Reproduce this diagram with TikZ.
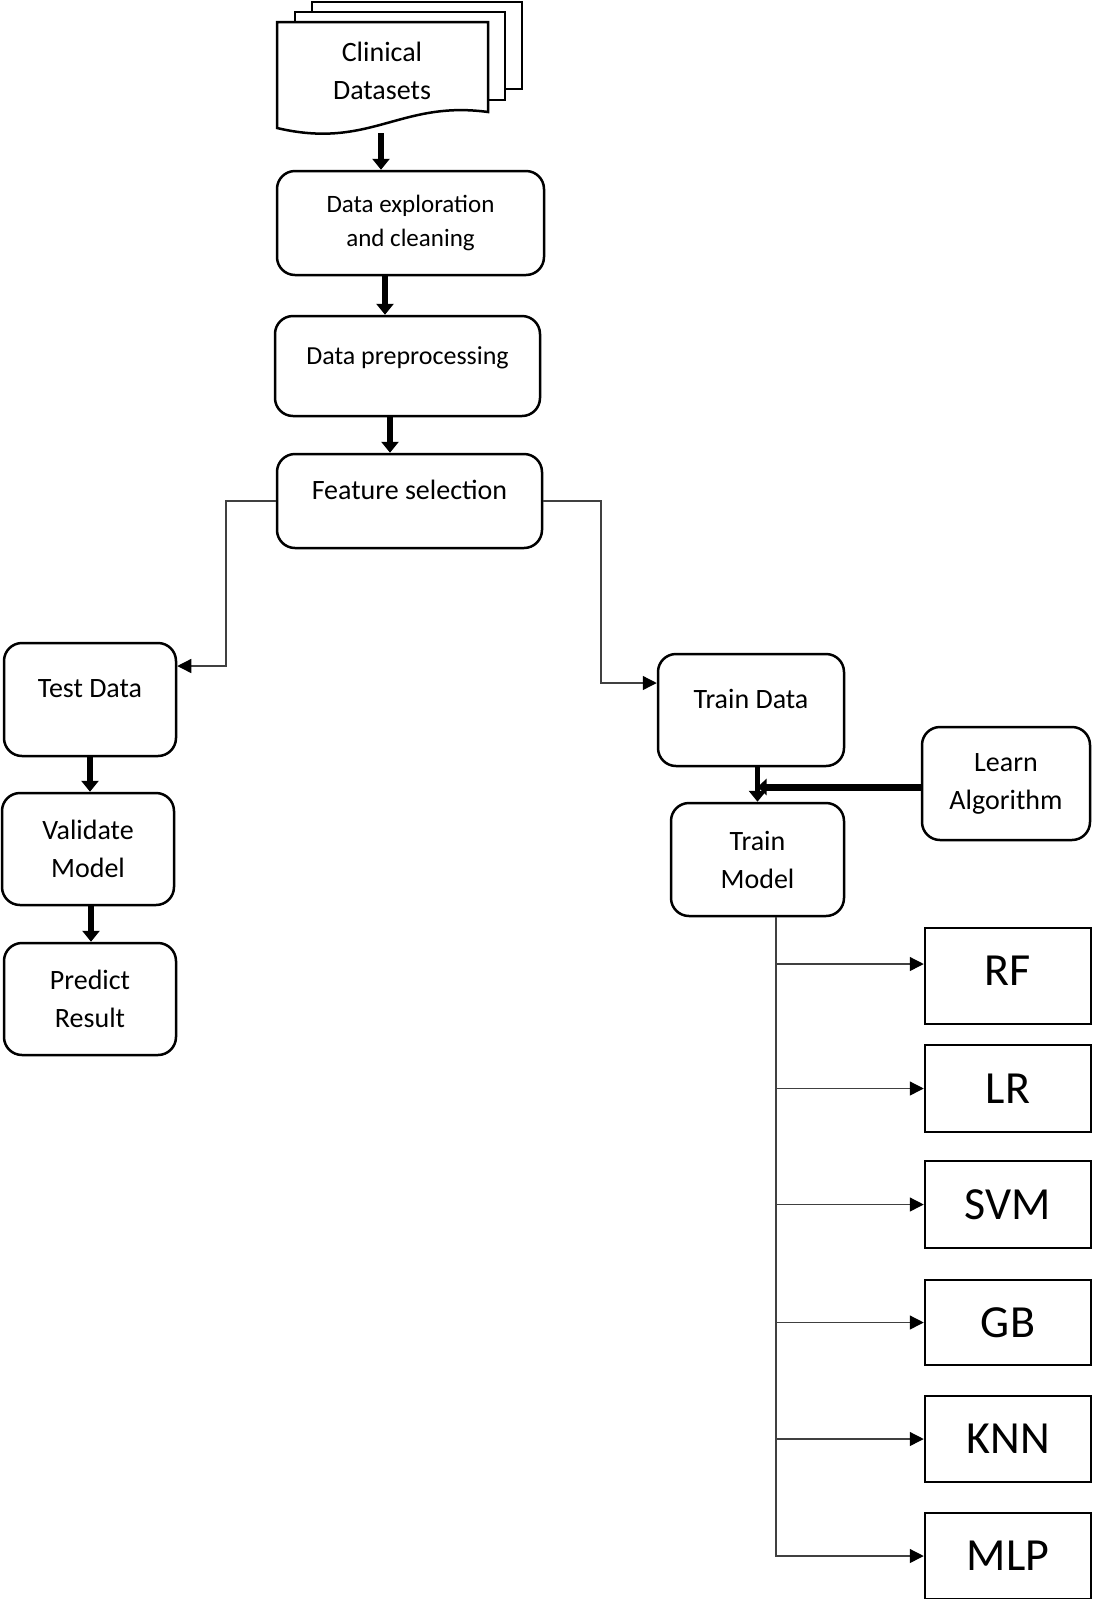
\documentclass[tikz,border=0pt]{standalone}
\usepackage{fontspec}
\setmainfont{Carlito}
\usetikzlibrary{arrows.meta}

\begin{document}
\begin{tikzpicture}[x=1pt, y=-1pt,
	box/.style={draw, line width=2.5pt, rounded corners=18pt, inner sep=0pt, align=center, font=\fontsize{28}{38}\selectfont},
	onerow/.style={text height=18pt, text depth=22pt},
	algbox/.style={draw, line width=2.5pt, inner sep=0pt, minimum width=166pt, font=\fontsize{46}{50}\selectfont},
	page/.style={draw, line width=2.5pt, fill=white},
	bold arrow/.style={line width=5.5pt, -{Triangle[length=11pt, width=17pt]}},
	thin arrow/.style={line width=1.3pt, black!75, -{Triangle[length=14pt, width=14pt, color=black]}}]

	\useasboundingbox (0,0) rectangle (1093,1599);

	\draw[page] (312,2) rectangle (522,89);
	\draw[page] (295,12) rectangle (505,100);
	\draw[page] (277,22) -- (488,22) -- (488,112) .. controls (400,100) and (370,150) .. (277,128) -- cycle;
	\node[align=center, font=\fontsize{28}{38}\selectfont] (data) at (382,71) {Clinical\\Datasets};
	\coordinate (datab) at (381,133);

	\node[box, minimum width=267pt, minimum height=104pt, font=\fontsize{25}{34}\selectfont] (explore) at (410.5,223) {Data exploration\\and cleaning};
	\node[box, onerow, minimum width=265pt, minimum height=100pt, font=\fontsize{26}{34}\selectfont] (prep) at (407.5,366) {Data preprocessing};
	\node[box, onerow, minimum width=265pt, minimum height=94pt] (feat) at (409.5,501) {Feature selection};

	\node[box, onerow, minimum width=172pt, minimum height=113pt] (test) at (90,699.5) {Test Data};
	\node[box, minimum width=172pt, minimum height=112pt] (valid) at (88,849) {Validate\\Model};
	\node[box, minimum width=172pt, minimum height=112pt] (pred) at (90,999) {Predict\\Result};

	\node[box, onerow, minimum width=186pt, minimum height=112pt] (train) at (751,710) {Train Data};
	\node[box, minimum width=168pt, minimum height=113pt] (learn) at (1006,783.5) {Learn\\Algorithm};
	\node[box, minimum width=173pt, minimum height=113pt] (model) at (757.5,859.5) {Train\\Model};

	\node[algbox, minimum height=96pt, text depth=10pt] (rf) at (1008,976) {RF};
	\node[algbox, minimum height=87pt] (lr) at (1008,1088.5) {LR};
	\node[algbox, minimum height=87pt] (svm) at (1008,1204.5) {SVM};
	\node[algbox, minimum height=85pt] (gb) at (1008,1322.5) {GB};
	\node[algbox, minimum height=86pt] (knn) at (1008,1439) {KNN};
	\node[algbox, minimum height=86pt] (mlp) at (1008,1556) {MLP};

	\draw[bold arrow] (datab) -- (datab |- explore.north);
	\draw[bold arrow] ([xshift=-25.5pt]explore.south) -- ([xshift=-25.5pt]explore.south |- prep.north);
	\draw[bold arrow] ([xshift=-17.5pt]prep.south) -- ([xshift=-17.5pt]prep.south |- feat.north);
	\draw[bold arrow] (test.south) -- (test.south |- valid.north);
	\draw[bold arrow] ([xshift=3pt]valid.south) -- ([xshift=3pt]valid.south |- pred.north);
	\draw[bold arrow] (train.south -| model.north) -- (model.north);
	\draw[line width=7pt, -{Triangle[length=9pt, width=16pt]}] ([yshift=-3.5pt]learn.west) -- ([yshift=-3.5pt]learn.west -| model.north);

	\coordinate (lbend) at (226,666);
	\coordinate (rbend) at (601,683);
	\draw[thin arrow] (feat.west) -| (lbend) -- (lbend -| test.east);
	\draw[thin arrow] (feat.east) -| (rbend) -- (rbend -| train.west);

	\coordinate (trunk) at (776,0);
	\coordinate (rfin) at ([yshift=12pt]rf.west);
	\draw[thin arrow] (model.south -| trunk) |- (mlp.west);
	\draw[thin arrow] (trunk |- rfin) -- (rfin);
	\draw[thin arrow] (trunk |- lr.west) -- (lr.west);
	\draw[thin arrow] (trunk |- svm.west) -- (svm.west);
	\draw[thin arrow] (trunk |- gb.west) -- (gb.west);
	\draw[thin arrow] (trunk |- knn.west) -- (knn.west);

\end{tikzpicture}
\end{document}
